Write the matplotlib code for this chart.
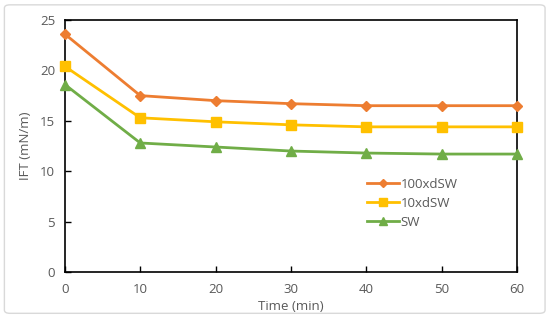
import matplotlib
matplotlib.use("Agg")
import matplotlib.pyplot as plt
from matplotlib.patches import FancyBboxPatch

time_min = [0, 10, 20, 30, 40, 50, 60]
ift_100xdsw = [23.6, 17.5, 17.0, 16.7, 16.5, 16.5, 16.5]
ift_10xdsw = [20.4, 15.3, 14.9, 14.6, 14.4, 14.4, 14.4]
ift_sw = [18.6, 12.8, 12.4, 12.0, 11.8, 11.7, 11.7]
labels = ["100xdSW", "10xdSW", "SW"]

plt.rcParams['font.family'] = ['Open Sans', 'DejaVu Sans']

fig = plt.figure(figsize=(5.5, 3.23), dpi=100)
border = FancyBboxPatch((0.008, 0.03), 0.983, 0.955, boxstyle="round,pad=0,rounding_size=0.01",
                        transform=fig.transFigure, fill=False, edgecolor='#d9d9d9', linewidth=1.0)
fig.patches.append(border)

ax = fig.add_axes([0.118, 0.158, 0.822, 0.78])
ax.plot(time_min, ift_100xdsw, color='#ED7D31', marker='D', markersize=5.5, linewidth=2, label=labels[0])
ax.plot(time_min, ift_10xdsw, color='#FFC000', marker='s', markersize=7, linewidth=2, label=labels[1])
ax.plot(time_min, ift_sw, color='#70AD47', marker='^', markersize=7, linewidth=2, label=labels[2])

ax.set_xlim(0, 60)
ax.set_ylim(0, 25)
ax.set_xticks(range(0, 61, 10))
ax.set_yticks(range(0, 26, 5))
for s in ax.spines.values():
    s.set_color('black')
    s.set_linewidth(1.2)
    s.set_zorder(0.5)
ax.tick_params(direction='in', length=4, width=1, colors='black', labelcolor='#595959', labelsize=9.5, pad=8)
ax.tick_params(axis='y', pad=7)
ax.set_xlabel("Time (min)", color='#595959', fontsize=9.5, labelpad=3)
ax.set_ylabel("IFT (mN/m)", color='#595959', fontsize=9.5, labelpad=6)
for line in ax.lines:
    line.set_clip_on(False)

leg = ax.legend(loc='upper left', bbox_to_anchor=(0.656, 0.47), bbox_transform=fig.transFigure,
                frameon=False, fontsize=9.5, handlelength=2.4, handletextpad=0.1,
                labelspacing=0.45, borderpad=0, markerscale=0.8)
for t in leg.get_texts():
    t.set_color('#595959')

fig.savefig("out.png", dpi=100)
